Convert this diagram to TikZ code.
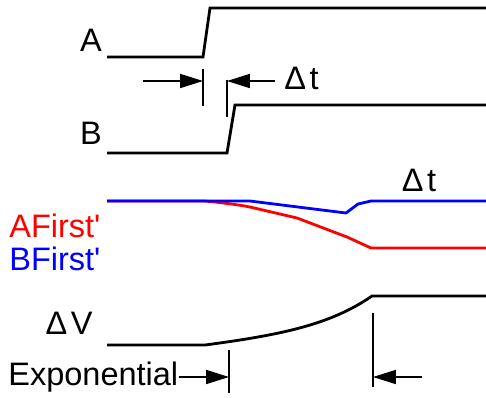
\documentclass[tikz,border=0pt]{standalone}
\usepackage{fontspec}
\setmainfont{Liberation Sans}
\usetikzlibrary{positioning, arrows.meta}

\begin{document}
\begin{tikzpicture}[
        x=0.02cm, y=-0.02cm,
        signal/.style={line width=1.6pt, line join=miter},
        tickline/.style={line width=0.7pt},
        dimarrow/.style={-{Triangle[length=13pt, width=8pt]}, line width=0.8pt},
        lbl/.style={font=\fontsize{18.5}{20}\selectfont, inner sep=0pt}
    ]
        \useasboundingbox (0,0) rectangle (486,397);

        % Inputs A and B
        \draw[signal] (107,57) -- (203,57) -- (210,8) -- (486,8);
        \draw[signal] (107,153) -- (227,153) -- (235,105) -- (486,105);
        \node[lbl] (labA) at (91,40) {A};
        \node[lbl] (labB) at (91,133) {B};

        % Delay between A and B
        \coordinate (tA) at (203,81);
        \coordinate (tB) at (227,81);
        \coordinate (tAl) at (143,81);
        \coordinate (tBr) at (275,81);
        \draw[tickline] (203,69) -- (203,106);
        \draw[tickline] (227,80) -- (227,117);
        \draw[dimarrow] (tAl) -- (tA);
        \draw[dimarrow] (tBr) -- (tB);
        \node[lbl, anchor=west] (dt1) at (284,78) {Δ\kern2pt t};

        % Outputs
        \draw[signal, red] (107,201) -- (205,201)
            .. controls (225,203) and (240,205) .. (250,207)
            -- (297,218) -- (347,237) -- (371,248) -- (486,248);
        \draw[signal, blue] (107,201) -- (250,201) -- (346,213)
            -- (358,204) -- (371,201) -- (486,201);
        \node[lbl] (dt2) at (419,180) {Δ\kern2pt t};
        \node[lbl, red, anchor=west] (afirst) at (9,226) {AFirst\textquotesingle};
        \node[lbl, blue, anchor=west] (bfirst) at (9,259) {BFirst\textquotesingle};

        % Delta V
        \draw[signal] (107,345) -- (205,345)
            .. controls (280,335) and (330,325) .. (372,296) -- (486,296);
        \node[lbl] (dv) at (69,323) {Δ\kern2pt V};

        % Exponential region
        \coordinate (eL) at (229,377);
        \coordinate (eR) at (373,377);
        \coordinate (eRr) at (422,377);
        \draw[tickline] (229,350) -- (229,393);
        \draw[tickline] (373,313) -- (373,387);
        \node[lbl, anchor=west] (expo) at (8,377) {Exponential};
        \draw[dimarrow] (expo.east) -- (eL);
        \draw[dimarrow] (eRr) -- (eR);
    \end{tikzpicture}
\end{document}
